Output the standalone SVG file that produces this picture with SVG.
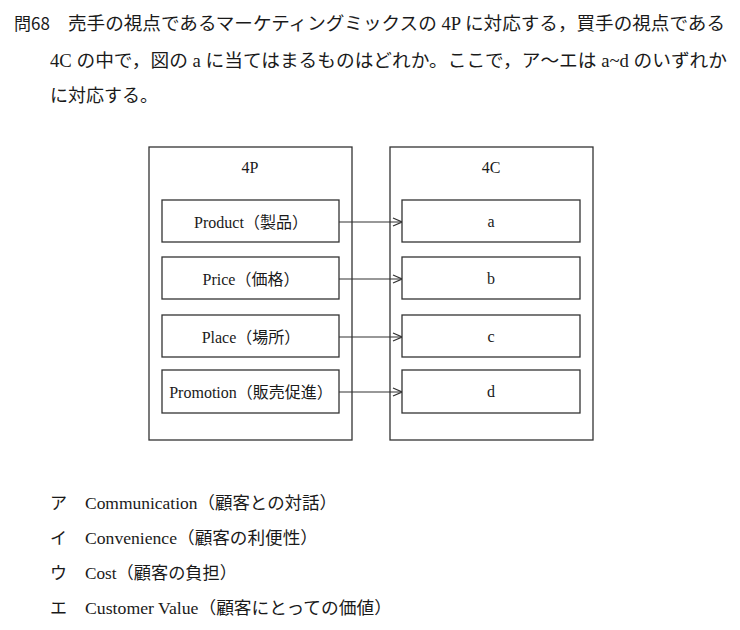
<svg xmlns="http://www.w3.org/2000/svg" width="740" height="630" viewBox="0 0 740 630">
  <style>
    .q { font-family: "Liberation Serif", "Noto Sans CJK JP", serif; font-size: 18px; fill: #1a1a1a; }
    .qn { font-family: "Noto Sans CJK JP", "Liberation Sans", sans-serif; font-size: 17px; fill: #1a1a1a; }
    .lbl { font-family: "Liberation Serif", "Noto Sans CJK JP", serif; font-size: 16px; fill: #1a1a1a; text-anchor: middle; }
    .opt { font-family: "Liberation Serif", "Noto Sans CJK JP", serif; font-size: 17px; fill: #1a1a1a; }
    .frame { fill: #fff; stroke: #333; stroke-width: 1.3; }
    .box { fill: #fff; stroke: #333; stroke-width: 1.3; }
    .link { stroke: #333; stroke-width: 1.1; fill: none; marker-end: url(#open); }
  </style>
  <defs>
    <marker id="open" viewBox="0 0 10 10" refX="10" refY="5" markerWidth="10" markerHeight="10" markerUnits="userSpaceOnUse" orient="auto">
      <path d="M1,1 L10,5 L1,9" fill="none" stroke="#333" stroke-width="1.2"/>
    </marker>
  </defs>
  <rect width="740" height="630" fill="#fff"/>

  <!-- question text -->
  <g id="question">
    <text class="qn" x="14" y="30">問68</text>
    <text class="q" x="68" y="30" textLength="657" lengthAdjust="spacingAndGlyphs">売手の視点であるマーケティングミックスの 4P に対応する，買手の視点である</text>
    <text class="q" x="50" y="67" textLength="677" lengthAdjust="spacingAndGlyphs">4C の中で，図の a に当てはまるものはどれか。ここで，ア～エは a~d のいずれか</text>
    <text class="q" x="50" y="102">に対応する。</text>
  </g>

  <!-- 4P column -->
  <g id="frame-4p">
    <rect class="frame" x="149" y="147" width="203" height="293"/>
    <text class="lbl" x="250" y="173">4P</text>
  </g>
  <!-- 4C column -->
  <g id="frame-4c">
    <rect class="frame" x="390" y="147" width="203" height="293"/>
    <text class="lbl" x="491" y="173">4C</text>
  </g>

  <g id="p-product">
    <rect class="box" x="162" y="200" width="177" height="42"/>
    <text class="lbl" x="251" y="228">Product（製品）</text>
  </g>
  <g id="p-price">
    <rect class="box" x="162" y="257" width="177" height="42"/>
    <text class="lbl" x="251" y="285">Price（価格）</text>
  </g>
  <g id="p-place">
    <rect class="box" x="162" y="315" width="177" height="42"/>
    <text class="lbl" x="251" y="343">Place（場所）</text>
  </g>
  <g id="p-promotion">
    <rect class="box" x="162" y="370" width="177" height="43"/>
    <text class="lbl" x="251" y="398">Promotion（販売促進）</text>
  </g>

  <g id="c-a">
    <rect class="box" x="402" y="200" width="178" height="42"/>
    <text class="lbl" x="491" y="227">a</text>
  </g>
  <g id="c-b">
    <rect class="box" x="402" y="257" width="178" height="42"/>
    <text class="lbl" x="491" y="284">b</text>
  </g>
  <g id="c-c">
    <rect class="box" x="402" y="315" width="178" height="42"/>
    <text class="lbl" x="491" y="342">c</text>
  </g>
  <g id="c-d">
    <rect class="box" x="402" y="370" width="178" height="43"/>
    <text class="lbl" x="491" y="397">d</text>
  </g>

  <!-- connectors -->
  <g id="connectors">
    <line class="link" x1="339" y1="222" x2="402" y2="222"/>
    <line class="link" x1="339" y1="279" x2="402" y2="279"/>
    <line class="link" x1="339" y1="337" x2="402" y2="337"/>
    <line class="link" x1="339" y1="392" x2="402" y2="392"/>
  </g>

  <!-- answer choices -->
  <g id="choices">
    <text class="opt" x="50" y="509">ア</text>
    <text class="opt" x="85" y="509" textLength="252" lengthAdjust="spacingAndGlyphs">Communication（顧客との対話）</text>
    <text class="opt" x="50" y="544">イ</text>
    <text class="opt" x="85" y="544" textLength="233" lengthAdjust="spacingAndGlyphs">Convenience（顧客の利便性）</text>
    <text class="opt" x="50" y="579">ウ</text>
    <text class="opt" x="85" y="579" textLength="152" lengthAdjust="spacingAndGlyphs">Cost（顧客の負担）</text>
    <text class="opt" x="50" y="614">エ</text>
    <text class="opt" x="85" y="614" textLength="307" lengthAdjust="spacingAndGlyphs">Customer Value（顧客にとっての価値）</text>
  </g>
</svg>
